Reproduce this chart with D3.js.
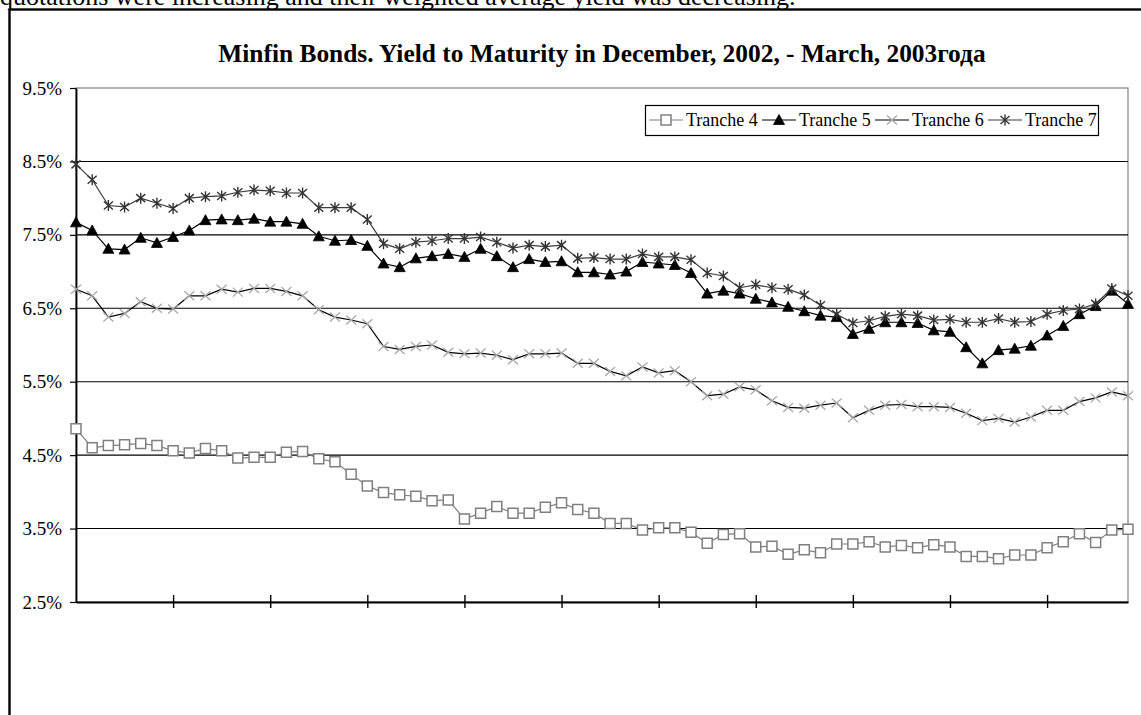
<!DOCTYPE html>
<html>
<head>
<meta charset="utf-8">
<script src="https://cdn.jsdelivr.net/npm/d3@7"></script>
<style>
  html, body { margin: 0; padding: 0; background: #fff; overflow: hidden; }
  svg { display: block; }
  text { font-family: "Liberation Serif", "Times New Roman", serif; fill: #000; }
</style>
</head>
<body>
<svg id="chart" width="1141" height="715"></svg>
<script>
// Yield to maturity (%) of the Minfin bond tranches, one value per trading day
const tranche4 = [4.86,4.60,4.63,4.64,4.66,4.63,4.56,4.53,4.59,4.56,
                  4.46,4.47,4.47,4.54,4.55,4.45,4.41,4.24,4.08,3.99,
                  3.96,3.94,3.88,3.89,3.63,3.71,3.80,3.71,3.71,3.79,
                  3.85,3.76,3.71,3.57,3.57,3.48,3.51,3.51,3.45,3.30,
                  3.42,3.43,3.25,3.26,3.15,3.21,3.17,3.29,3.29,3.32,
                  3.25,3.27,3.24,3.28,3.25,3.12,3.12,3.09,3.14,3.14,
                  3.24,3.32,3.43,3.31,3.48,3.49];
const tranche5 = [7.67,7.56,7.31,7.30,7.46,7.39,7.47,7.56,7.70,7.71,
                  7.70,7.72,7.68,7.68,7.65,7.48,7.42,7.43,7.35,7.11,
                  7.06,7.18,7.21,7.24,7.20,7.31,7.21,7.06,7.17,7.13,
                  7.14,6.99,6.99,6.96,7.00,7.13,7.11,7.09,6.98,6.70,
                  6.74,6.70,6.63,6.58,6.52,6.46,6.40,6.38,6.15,6.22,
                  6.31,6.31,6.30,6.20,6.18,5.97,5.75,5.93,5.95,5.99,
                  6.13,6.26,6.42,6.53,6.74,6.56];
const tranche6 = [6.76,6.67,6.38,6.43,6.59,6.50,6.49,6.67,6.67,6.76,
                  6.72,6.77,6.77,6.73,6.67,6.48,6.38,6.34,6.29,5.98,
                  5.94,5.98,6.00,5.90,5.88,5.89,5.86,5.80,5.88,5.88,
                  5.89,5.75,5.75,5.64,5.58,5.70,5.62,5.65,5.50,5.31,
                  5.33,5.43,5.39,5.24,5.15,5.14,5.18,5.21,5.01,5.11,
                  5.18,5.19,5.16,5.16,5.15,5.07,4.97,5.00,4.95,5.02,
                  5.11,5.11,5.23,5.28,5.36,5.31];
const tranche7 = [8.46,8.25,7.90,7.88,8.00,7.93,7.86,8.00,8.02,8.03,
                  8.08,8.11,8.10,8.07,8.07,7.87,7.87,7.87,7.71,7.38,
                  7.31,7.40,7.42,7.45,7.45,7.47,7.40,7.32,7.36,7.34,
                  7.36,7.18,7.19,7.17,7.17,7.24,7.20,7.20,7.16,6.98,
                  6.94,6.78,6.82,6.78,6.76,6.68,6.54,6.42,6.30,6.33,
                  6.39,6.42,6.40,6.34,6.35,6.31,6.31,6.36,6.31,6.32,
                  6.42,6.47,6.49,6.56,6.77,6.67];

const seriesNames = ["Tranche 4", "Tranche 5", "Tranche 6", "Tranche 7"];
const yTickValues = [2.5, 3.5, 4.5, 5.5, 6.5, 7.5, 8.5, 9.5];
const yTickLabels = ["2.5%", "3.5%", "4.5%", "5.5%", "6.5%", "7.5%", "8.5%", "9.5%"];
const titleText = "Minfin Bonds. Yield to Maturity in December, 2002, - March, 2003года";
const leadText = "quotations were increasing and their weighted average yield was decreasing.";

// trading-day index used as the category axis
const days = tranche4.map((_, i) => i);
const xTickDays = days.filter(d => d > 0 && d % 6 === 0);

const svg = d3.select("#chart");
const plot = { left: 76, right: 1128, top: 88, bottom: 602 };

const x = d3.scalePoint().domain(days).range([plot.left, plot.right]);
const y = d3.scaleLinear().domain([2.5, 9.5]).range([plot.bottom, plot.top]);

// paragraph text running above the chart frame
svg.append("text")
  .attr("x", 0).attr("y", 5)
  .style("font-size", "26px")
  .text(leadText);

// chart frame (continues past the right and bottom of the view)
svg.append("rect")
  .attr("x", 9.5).attr("y", 9.5)
  .attr("width", 1200).attr("height", 800)
  .attr("fill", "none").attr("stroke", "#000").attr("stroke-width", 2.4);

// title
svg.append("text")
  .attr("x", (plot.left + plot.right) / 2).attr("y", 62)
  .attr("text-anchor", "middle")
  .style("font-size", "25.4px").style("font-weight", "bold")
  .text(titleText);

// plot area outline
svg.append("rect")
  .attr("x", plot.left).attr("y", plot.top)
  .attr("width", plot.right - plot.left).attr("height", plot.bottom - plot.top)
  .attr("fill", "none").attr("stroke", "#808080").attr("stroke-width", 1.2);

// horizontal gridlines
svg.append("g")
  .selectAll("line")
  .data(yTickValues.filter(v => v > 2.5 && v < 9.5))
  .join("line")
  .attr("x1", plot.left).attr("x2", plot.right)
  .attr("y1", d => y(d)).attr("y2", d => y(d))
  .attr("stroke", "#000").attr("stroke-width", 1.1);

// value axis
const yAxis = svg.append("g")
  .attr("transform", `translate(${plot.left},0)`)
  .call(d3.axisLeft(y)
    .tickValues(yTickValues)
    .tickFormat((d, i) => yTickLabels[i])
    .tickSizeInner(6).tickSizeOuter(0).tickPadding(8));
yAxis.select(".domain").attr("stroke", "#000").attr("stroke-width", 1.8);
yAxis.selectAll(".tick line").attr("stroke", "#000").attr("stroke-width", 1.2);
yAxis.selectAll(".tick text")
  .attr("font-family", null)
  .style("font-size", "19px").attr("fill", "#000");

// category axis: tick every six trading days, crossing the axis line
const xAxis = svg.append("g")
  .attr("transform", `translate(0,${plot.bottom})`)
  .call(d3.axisBottom(x).tickValues(xTickDays).tickFormat("").tickSizeOuter(0));
xAxis.select(".domain").attr("stroke", "#000").attr("stroke-width", 1.8);
xAxis.selectAll(".tick line")
  .attr("y1", -7).attr("y2", 6)
  .attr("stroke", "#000").attr("stroke-width", 1.4);

// marker shapes
const squarePath = "M-5,-5H5V5H-5Z";
const trianglePath = "M0,-5.5L5.5,4.5L-5.5,4.5Z";
const crossPath = "M-5,-4.5L5,4.5M-5,4.5L5,-4.5";
const starPath = "M-4.5,-4L4.5,4M-4.5,4L4.5,-4M0,-5.5V5.5";

const series = [
  { name: seriesNames[0], values: tranche4, line: "#7f7f7f", lw: 1.2,
    path: squarePath, fill: "#fff", stroke: "#7f7f7f", sw: 1.5 },
  { name: seriesNames[1], values: tranche5, line: "#000", lw: 1.2,
    path: trianglePath, fill: "#000", stroke: "#000", sw: 0.8 },
  { name: seriesNames[2], values: tranche6, line: "#000", lw: 1.2,
    path: crossPath, fill: "none", stroke: "#a8a8a8", sw: 1.3 },
  { name: seriesNames[3], values: tranche7, line: "#3c3c3c", lw: 1.2,
    path: starPath, fill: "none", stroke: "#333", sw: 1.4 }
];

const line = d3.line().x((d, i) => x(days[i])).y(d => y(d));

series.forEach(s => {
  const g = svg.append("g");
  g.append("path")
    .attr("d", line(s.values))
    .attr("fill", "none").attr("stroke", s.line).attr("stroke-width", s.lw);
  g.selectAll("path.mk")
    .data(s.values)
    .join("path").attr("class", "mk")
    .attr("transform", (d, i) => `translate(${x(days[i])},${y(d)})`)
    .attr("d", s.path)
    .attr("fill", s.fill).attr("stroke", s.stroke).attr("stroke-width", s.sw);
});

// legend
const legend = { left: 645, top: 105, width: 453, height: 30, step: 113 };
const lg = svg.append("g");
lg.append("rect")
  .attr("x", legend.left + 0.5).attr("y", legend.top + 0.5)
  .attr("width", legend.width).attr("height", legend.height)
  .attr("fill", "#fff").attr("stroke", "#000").attr("stroke-width", 1.2);
series.forEach((s, k) => {
  const x0 = legend.left + 4 + k * legend.step;
  const cy = legend.top + legend.height / 2;
  lg.append("line")
    .attr("x1", x0).attr("x2", x0 + 34).attr("y1", cy).attr("y2", cy)
    .attr("stroke", s.line).attr("stroke-width", s.lw);
  lg.append("path")
    .attr("transform", `translate(${x0 + 17},${cy})`)
    .attr("d", s.path)
    .attr("fill", s.fill).attr("stroke", s.stroke).attr("stroke-width", s.sw);
  lg.append("text")
    .attr("x", x0 + 37).attr("y", cy + 6)
    .style("font-size", "18px")
    .text(s.name);
});
</script>
</body>
</html>
